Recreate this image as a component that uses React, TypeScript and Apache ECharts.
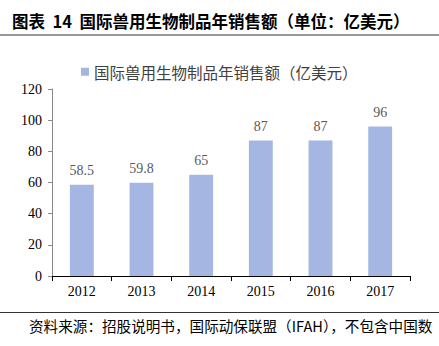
import React, { useEffect, useRef } from "react";
import * as echarts from "echarts";

const categories = ["2012", "2013", "2014", "2015", "2016", "2017"];
const sales = [58.5, 59.8, 65, 87, 87, 96];
const seriesName = "国际兽用生物制品年销售额（亿美元）";
const titleText = "图表  14  国际兽用生物制品年销售额（单位：亿美元）";
const footerText = "资料来源：招股说明书，国际动保联盟（IFAH），不包含中国数";

export default function App() {
  const ref = useRef<HTMLDivElement>(null);
  useEffect(() => {
    if (!ref.current) return;
    const chart = echarts.init(ref.current, undefined, { renderer: "svg" });
    chart.setOption({
      animation: false,
      backgroundColor: "#ffffff",
      legend: {
        data: [seriesName],
        top: 59,
        left: 76,
        itemWidth: 8,
        itemHeight: 8,
        itemGap: 6,
        icon: "rect",
        textStyle: {
          fontFamily: "Noto Sans CJK SC",
          fontSize: 15.5,
          color: "#404040",
        },
      },
      grid: { left: 52, right: 29, top: 89, bottom: 70 },
      xAxis: {
        type: "category",
        data: categories,
        axisLine: { lineStyle: { color: "#000000", width: 1 } },
        axisTick: { show: true, length: 5, lineStyle: { color: "#000000" } },
        axisLabel: {
          fontFamily: "Liberation Serif",
          fontSize: 14,
          color: "#000000",
          margin: 8,
        },
      },
      yAxis: {
        type: "value",
        min: 0,
        max: 120,
        interval: 20,
        splitLine: { show: false },
        axisLine: { show: true, lineStyle: { color: "#888888", width: 1 } },
        axisTick: { show: true, length: 4, lineStyle: { color: "#888888" } },
        axisLabel: {
          fontFamily: "Liberation Serif",
          fontSize: 14,
          color: "#000000",
          margin: 10,
        },
      },
      series: [
        {
          name: seriesName,
          type: "bar",
          data: sales,
          barWidth: "40%",
          itemStyle: { color: "#a4b6e1" },
          label: {
            show: true,
            position: "top",
            distance: 7,
            fontFamily: "Liberation Serif",
            fontSize: 14,
            color: "#595959",
          },
        },
      ],
      graphic: [
        {
          type: "text",
          left: 12,
          top: 13,
          style: {
            text: titleText,
            fontFamily: "Noto Sans CJK SC",
            fontWeight: "bold",
            fontSize: 16.5,
            fill: "#000000",
          },
        },
        {
          type: "line",
          shape: { x1: 0, y1: 35, x2: 439, y2: 35 },
          style: { stroke: "#333333", lineWidth: 1.2 },
        },
        {
          type: "line",
          shape: { x1: 0, y1: 312.5, x2: 439, y2: 312.5 },
          style: { stroke: "#333333", lineWidth: 1.2 },
        },
        {
          type: "text",
          left: 29,
          top: 318,
          style: {
            text: footerText,
            fontFamily: "Noto Sans CJK SC",
            fontSize: 14.6,
            fill: "#000000",
          },
        },
      ],
    });
    return () => chart.dispose();
  }, []);
  return (
    <div
      ref={ref}
      style={{ position: "fixed", left: 0, top: 0, width: 439, height: 346 }}
    />
  );
}
